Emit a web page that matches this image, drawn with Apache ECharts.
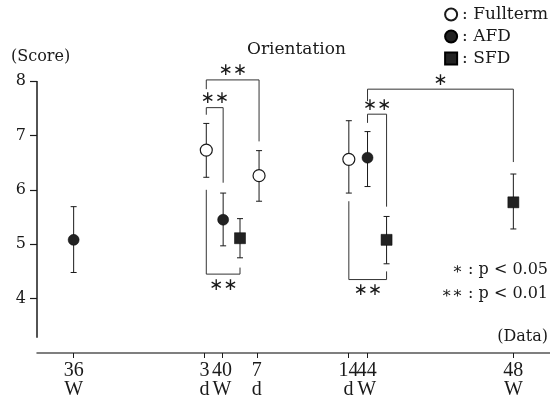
<!DOCTYPE html>
<html>
<head>
<meta charset="utf-8">
<script src="https://cdn.jsdelivr.net/npm/echarts@6/dist/echarts.min.js"></script>
<style>html,body{margin:0;padding:0;background:#fff}#c{width:550px;height:400px}</style>
</head>
<body>
<div id="c"></div>
<script>
// ---- data ----
const xTickValues = [36, 39.57, 40.05, 41, 43.5, 44, 48];
const xTickLabels = ['36\nW', '3\nd', '40\nW', '7\nd', '14\nd', '44\nW', '48\nW'];
const yTickValues = [4, 5, 6, 7, 8];

const fullX = [39.62, 41.06, 43.51];
const fullMean = [6.73, 6.26, 6.56];
const fullLow = [6.23, 5.79, 5.94];
const fullHigh = [7.22, 6.72, 7.27];

const afdX = [36.0, 40.08, 44.02];
const afdMean = [5.08, 5.45, 6.59];
const afdLow = [4.48, 4.97, 6.06];
const afdHigh = [5.69, 5.94, 7.07];

const sfdX = [40.54, 44.54, 48.0];
const sfdMean = [5.11, 5.08, 5.77];
const sfdLow = [4.75, 4.64, 5.28];
const sfdHigh = [5.47, 5.51, 6.29];

// significance brackets
const bracketX1 = [39.62, 39.62, 39.62, 44.02, 44.02, 43.51];
const bracketX2 = [41.06, 40.08, 40.54, 48.0, 44.54, 44.54];
const bracketBar = [8.02, 7.51, 4.45, 7.85, 7.39, 4.35];
const bracketLeg1 = [7.85, 7.38, 6.0, 7.63, 7.23, 5.79];
const bracketLeg2 = [6.89, 6.13, 4.57, 6.51, 5.69, 4.50];
const bracketMark = ['∗∗', '∗∗', '∗∗', '∗', '∗∗', '∗∗'];
const bracketBelow = [false, false, true, false, false, true];

// ---- build ----
const SERIF = '"DejaVu Serif", "Liberation Serif", serif';
const INK = '#1a1a1a';

function pts(xs, ys) { return xs.map((x, i) => [x, ys[i]]); }
function errData(xs, lo, hi) { return xs.map((x, i) => [x, lo[i], hi[i]]); }

function errRender(params, api) {
  const x = api.value(0);
  const a = api.coord([x, api.value(1)]);
  const b = api.coord([x, api.value(2)]);
  const cap = 3;
  const st = { stroke: INK, lineWidth: 1 };
  return {
    type: 'group',
    children: [
      { type: 'line', shape: { x1: a[0], y1: a[1], x2: b[0], y2: b[1] }, style: st },
      { type: 'line', shape: { x1: a[0] - cap, y1: a[1], x2: a[0] + cap, y2: a[1] }, style: st },
      { type: 'line', shape: { x1: b[0] - cap, y1: b[1], x2: b[0] + cap, y2: b[1] }, style: st }
    ]
  };
}

function errSeries(xs, lo, hi) {
  return {
    type: 'custom', silent: true, z: 2, clip: false,
    renderItem: errRender,
    encode: { x: 0, y: [1, 2] },
    data: errData(xs, lo, hi)
  };
}

const bracketData = bracketX1.map((x1, i) => [x1, bracketX2[i], bracketBar[i], bracketLeg1[i], bracketLeg2[i]]);

function bracketRender(params, api) {
  const i = params.dataIndex;
  const x1 = api.value(0), x2 = api.value(1), yb = api.value(2);
  const p1 = api.coord([x1, api.value(3)]);
  const p2 = api.coord([x1, yb]);
  const p3 = api.coord([x2, yb]);
  const p4 = api.coord([x2, api.value(4)]);
  const below = bracketBelow[i];
  return {
    type: 'group',
    children: [
      { type: 'polyline', shape: { points: [p1, p2, p3, p4] }, style: { stroke: '#333', lineWidth: 1, fill: null } },
      { type: 'text', style: {
          text: bracketMark[i], x: (p2[0] + p3[0]) / 2, y: p2[1] + (below ? 11 : -9),
          align: 'center', verticalAlign: 'middle',
          font: '17px "DejaVu Sans", sans-serif', fill: INK
        } }
    ]
  };
}

const chart = echarts.init(document.getElementById('c'), null, { renderer: 'canvas' });
chart.setOption({
  animation: false,
  backgroundColor: '#fff',
  title: {
    text: 'Orientation', left: 242, top: 36,
    textStyle: { fontFamily: SERIF, fontSize: 17, fontWeight: 'normal', color: INK }
  },
  legend: {
    orient: 'vertical', right: 2, top: 6, itemGap: 5, padding: 0,
    itemWidth: 12, itemHeight: 12,
    data: ['Fullterm', 'AFD', 'SFD'],
    formatter: n => ': ' + n,
    textStyle: { fontFamily: SERIF, fontSize: 17, color: INK }
  },
  grid: { left: 37, right: 0, top: 81, bottom: 47, containLabel: false },
  xAxis: {
    type: 'value', min: 35, max: 49,
    splitLine: { show: false },
    axisLine: { show: true, lineStyle: { color: '#555', width: 1.5 } },
    axisTick: { show: true, length: 5, customValues: xTickValues, lineStyle: { color: INK } },
    axisLabel: {
      customValues: xTickValues,
      formatter: v => { const k = xTickValues.indexOf(v); return k >= 0 ? xTickLabels[k] : ''; },
      fontFamily: '"Liberation Serif", serif', fontSize: 20, lineHeight: 19, color: INK, margin: 8
    }
  },
  yAxis: {
    type: 'value', min: 3, max: 8,
    splitLine: { show: false },
    axisLine: { show: false },
    axisTick: { show: true, length: 7, customValues: yTickValues, lineStyle: { color: INK, width: 1.2 } },
    axisLabel: { customValues: yTickValues, fontFamily: SERIF, fontSize: 16, color: INK, margin: 11 }
  },
  graphic: [
    { type: 'text', left: 11, top: 49, style: { text: '(Score)', font: '16px ' + SERIF, fill: INK } },
    { type: 'text', right: 2, top: 329, style: { text: '(Data)', font: '16px ' + SERIF, fill: INK } },
    { type: 'text', right: 2, top: 262, style: { text: '∗ : p < 0.05', font: '16px ' + SERIF, fill: INK } },
    { type: 'text', right: 2, top: 286, style: { text: '∗∗ : p < 0.01', font: '16px ' + SERIF, fill: INK } }
  ],
  series: [
    { // y axis line
      type: 'line', silent: true, symbol: 'none', z: 1,
      data: [[35, 3.28], [35, 8]],
      lineStyle: { color: INK, width: 1.5 }
    },
    errSeries(fullX, fullLow, fullHigh),
    errSeries(afdX, afdLow, afdHigh),
    errSeries(sfdX, sfdLow, sfdHigh),
    {
      type: 'custom', silent: true, z: 1, clip: false,
      renderItem: bracketRender,
      encode: { x: [0, 1], y: [2, 3, 4] },
      data: bracketData
    },
    {
      name: 'Fullterm', type: 'scatter', symbol: 'circle', symbolSize: 12, z: 5,
      itemStyle: { color: '#fff', borderColor: INK, borderWidth: 1.2, opacity: 1 },
      data: pts(fullX, fullMean)
    },
    {
      name: 'AFD', type: 'scatter', symbol: 'circle', symbolSize: 11, z: 5,
      itemStyle: { color: '#222', borderColor: '#000', borderWidth: 0.5, opacity: 1 },
      data: pts(afdX, afdMean)
    },
    {
      name: 'SFD', type: 'scatter', symbol: 'rect', symbolSize: 11, z: 5,
      itemStyle: { color: '#222', borderColor: '#000', borderWidth: 0.5, opacity: 1 },
      data: pts(sfdX, sfdMean)
    }
  ]
});
</script>
</body>
</html>
